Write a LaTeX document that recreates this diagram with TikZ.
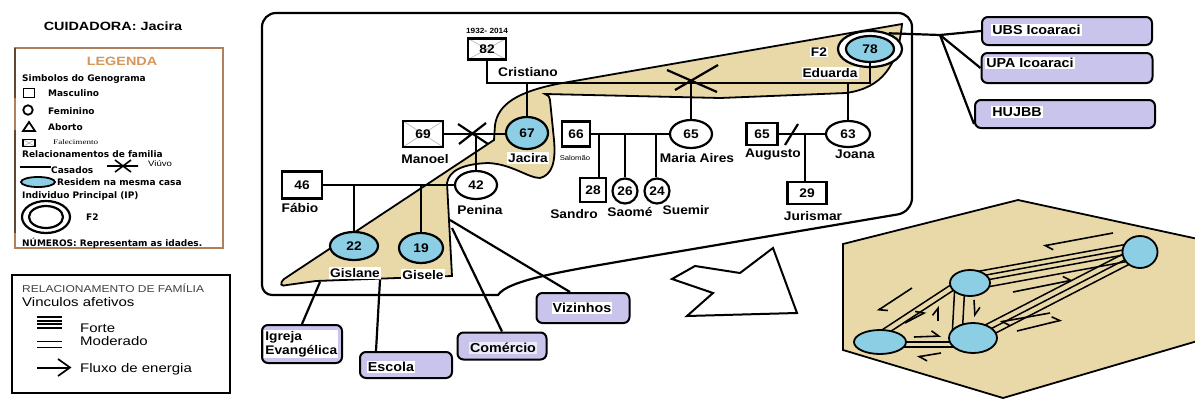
\documentclass[tikz,border=0pt]{standalone}
\usepackage{fontspec}
\setmainfont{Liberation Sans}
\newfontfamily\labfont{Liberation Sans}[FakeStretch=1.1]
\newfontfamily\widefont{Liberation Sans}[FakeStretch=1.2]
\newfontfamily\legfont{DejaVu Sans}
\newfontfamily\serffont{Liberation Serif}[FakeStretch=1.3]
\usetikzlibrary{shapes.geometric,arrows.meta}

\pgfdeclarelayer{bg}
\pgfdeclarelayer{links}
\pgfsetlayers{bg,links,main}

\definecolor{sky}{RGB}{140,206,228}
\definecolor{sand}{RGB}{234,217,168}
\definecolor{lilac}{RGB}{200,196,236}
\definecolor{rust}{RGB}{176,128,92}
\definecolor{legtitle}{RGB}{214,150,90}

\tikzset{
  kin/.style={line width=2.2pt},
  person/.style={draw, line width=2.2pt, fill=white, inner sep=0pt,
    font=\labfont\bfseries\fontsize{12.5}{12.5}\selectfont},
  man/.style={person, rectangle},
  woman/.style={person, ellipse},
  home/.style={fill=sky},
  dead/.style={path picture={\draw[gray!55, line width=0.7pt]
    (path picture bounding box.north west) -- (path picture bounding box.south east)
    (path picture bounding box.south west) -- (path picture bounding box.north east);}},
  plab/.style={font=\labfont\bfseries\fontsize{12.5}{12.5}\selectfont, inner sep=1pt},
  plabw/.style={plab, fill=white},
  legtxt/.style={font=\legfont\bfseries\fontsize{9}{9}\selectfont, anchor=west, inner sep=0pt},
  legtxtb/.style={font=\widefont\fontsize{12.5}{13}\selectfont, anchor=west, inner sep=0pt},
  resbox/.style={draw, line width=2pt, fill=lilac, rounded corners=6pt, inner sep=0pt},
  restext/.style={font=\labfont\bfseries\fontsize{13}{14}\selectfont, inner sep=1.2pt},
  hnode/.style={draw, ellipse, line width=1.8pt, fill=sky, inner sep=0pt},
  hl/.style={line width=1.5pt},
  flux/.style={line width=1.6pt, -{Straight Barb[left,length=7pt,width=11pt]}},
}

\begin{document}
\begin{tikzpicture}[x=1pt,y=-1pt]
\useasboundingbox (0,0) rectangle (1195,399);

% ---------- caregiver title and symbol legend ----------
\node[font=\widefont\bfseries\fontsize{12}{12}\selectfont] (cuid) at (113,26) {CUIDADORA: Jacira};
\draw[rust, line width=2pt] (15,48) rectangle (223,248);
\draw[rust!55!black, line width=2.5pt] (15,48) -- (15,98) (15,130) -- (15,233);
\node[font=\widefont\bfseries\fontsize{12}{12}\selectfont, text=legtitle] (legt) at (122,61) {LEGENDA};
\node[legtxt] (lg1) at (22,79) {Simbolos do Genograma};
\node[draw, line width=1.8pt, minimum width=11pt, minimum height=9pt, inner sep=0pt] (lgsq) at (29,93) {};
\node[legtxt] (lg2) at (48,93) {Masculino};
\node[draw, circle, line width=1.8pt, minimum size=9.5pt, inner sep=0pt] (lgci) at (28,110) {};
\node[legtxt] (lg3) at (48,111) {Feminino};
\draw[line width=1.8pt] (23,131) -- (29,122) -- (35,131) -- cycle;
\node[legtxt] (lg4) at (48,127) {Aborto};
\node[draw, line width=1.3pt, minimum width=12pt, minimum height=7pt, inner sep=0pt, dead] (lgdq) at (29,143) {};
\node[anchor=west, inner sep=0pt, font=\serffont\fontsize{7}{7}\selectfont] (lg5) at (53,142) {Falecimento};
\node[legtxt] (lg6) at (22,154) {Relacionamentos de familia};
\draw[line width=1.8pt] (20,167) -- (51,167);
\node[legtxt] (lg7) at (51,170) {Casados};
\draw[line width=1.6pt] (107,166) -- (138,166) (115,160) -- (131,172) (115,172) -- (131,160);
\node[anchor=west, inner sep=0pt, font=\widefont\fontsize{8}{8}\selectfont] (lg8) at (148,164) {Viúvo};
\node[draw, ellipse, fill=sky, line width=1.8pt, minimum width=34pt, minimum height=10pt, inner sep=0pt] (lgel) at (38,182) {};
\node[legtxt] (lg9) at (57,182) {Residem na mesma casa};
\node[legtxt] (lg10) at (22,196) {Individuo Principal (IP)};
\node[draw, ellipse, line width=2.2pt, minimum width=48pt, minimum height=32pt] (ipo) at (46,217) {};
\node[draw, ellipse, line width=2.2pt, minimum width=34pt, minimum height=22pt] (ipi) at (46,217) {};
\node[legtxt] (lg11) at (86,217) {F2};
\node[legtxt] (lg12) at (22,243) {NÚMEROS: Representam as idades.};

% ---------- relationship legend ----------
\draw[line width=2pt] (12,275) rectangle (230,393);
\node[anchor=west, inner sep=0pt, text=black!75, font=\widefont\fontsize{10}{10}\selectfont] (rl1) at (22,288) {RELACIONAMENTO DE FAMÍLIA};
\node[legtxtb] (rl2) at (22,302) {Vinculos afetivos};
\foreach \yy in {317,320.7,324.3,328} \draw[line width=1.7pt] (37,\yy) -- (62,\yy);
\foreach \yy in {341.5,347.5} \draw[line width=1.7pt] (37,\yy) -- (62,\yy);
\draw[line width=1.7pt] (37,368) -- (69,368);
\draw[line width=1.7pt] (58,359) -- (70,367.5) -- (58,376);
\node[legtxtb] (rl3) at (80,328) {Forte};
\node[legtxtb] (rl4) at (80,341) {Moderado};
\node[legtxtb] (rl5) at (80,369) {Fluxo de energia};

% ---------- background shapes ----------
\begin{pgfonlayer}{bg}
  % genogram frame
  \draw[line width=2.2pt] (262,150) [rounded corners=14pt] -- (262,13) -- (912,13) -- (912,212)
    -- (640,258) [sharp corners] .. controls (565,271) and (508,280) .. (498,295)
    [rounded corners=10pt] -- (262,295) -- cycle;
  % shared household
  \filldraw[fill=sand, line width=1.8pt] (902,24) -- (557,84)
    .. controls (518,92) and (498,104) .. (495,125) -- (494,140) -- (284,279)
    .. controls (279,284) and (281,287) .. (287,285) -- (316,281) -- (452,276) -- (447,183)
    .. controls (449,171) and (462,164) .. (488,163)
    .. controls (512,164) and (528,178) .. (540,178)
    .. controls (552,175) and (556,162) .. (554,140) -- (550,100)
    .. controls (549,96) and (548,95) .. (545,94) -- (720,98) -- (846,93)
    .. controls (882,88) and (898,66) .. (902,24) -- cycle;
  % arrow towards the ecomap
  \draw[line width=2pt, fill=white] (773,248) -- (797,313) -- (687,316) -- (713,293)
    -- (672,279) -- (695,266) -- (740,273) -- cycle;
  % hexagon
  \begin{scope}
    \clip (0,0) rectangle (1195,399);
    \filldraw[fill=sand, line width=1.8pt] (843,244) -- (1018,200) -- (1235,247)
      -- (1235,330) -- (1003,398) -- (843,350) -- cycle;
  \end{scope}
\end{pgfonlayer}

% ---------- people ----------
\node[draw, ellipse, line width=2.2pt, fill=white, minimum width=64pt, minimum height=36pt] (ring) at (870,49) {};
\node[woman, home, minimum width=48pt, minimum height=26pt] (eduarda) at (870,49) {78};
\node[plabw] (f2) at (819,52) {F2};
\node[plabw] (eduarda-n) at (830,73) {Eduarda};

\node[man, dead, minimum width=38pt, minimum height=21pt] (cristiano) at (487,49) {82};
\node[plab, font=\labfont\bfseries\fontsize{7.5}{8}\selectfont] (cristiano-d) at (487,31) {1932- 2014};
\node[plab] (cristiano-n) at (528,72) {Cristiano};
\node[man, dead, minimum width=40pt, minimum height=26pt] (manoel) at (423,134) {69};
\node[plab] (manoel-n) at (425,159) {Manoel};
\node[woman, home, minimum width=42pt, minimum height=32pt] (jacira) at (527,133) {67};
\node[plabw] (jacira-n) at (528,158) {Jacira};
\node[man, minimum width=28pt, minimum height=25pt] (salomao) at (576,134) {66};
\node[plab, font=\labfont\fontsize{7}{7}\selectfont] (salomao-n) at (575,158) {Salomão};
\node[woman, minimum width=42pt, minimum height=28pt] (maria) at (691,134) {65};
\node[plab] (maria-n) at (697,158) {Maria Aires};
\node[man, minimum width=26pt, minimum height=24pt] (sandro) at (593,190) {28};
\node[plab] (sandro-n) at (574,214) {Sandro};
\node[woman, minimum width=25pt, minimum height=25pt] (saome) at (625,191) {26};
\node[plab] (saome-n) at (630,212) {Saomé};
\node[woman, minimum width=25pt, minimum height=25pt] (suemir) at (657,191) {24};
\node[plab] (suemir-n) at (686,210) {Suemir};
\node[man, minimum width=31pt, minimum height=22pt] (augusto) at (762,134) {65};
\node[plab] (augusto-n) at (773,155) {Augusto};
\node[woman, minimum width=44pt, minimum height=26pt] (joana) at (848,134) {63};
\node[plab] (joana-n) at (855,154) {Joana};
\node[man, minimum width=39pt, minimum height=22pt] (jurismar) at (807,193) {29};
\node[plab] (jurismar-n) at (813,216) {Jurismar};
\node[man, minimum width=40pt, minimum height=27pt] (fabio) at (302,185) {46};
\node[plab] (fabio-n) at (300,208) {Fábio};
\node[woman, minimum width=42pt, minimum height=28pt] (penina) at (476,185) {42};
\node[plab] (penina-n) at (480,210) {Penina};
\node[woman, home, minimum width=48pt, minimum height=28pt] (gislane) at (354,246) {22};
\node[plabw] (gislane-n) at (355,273) {Gislane};
\node[woman, home, minimum width=44pt, minimum height=30pt] (gisele) at (421,248) {19};
\node[plabw] (gisele-n) at (423,275) {Gisele};

% ---------- family lines ----------
\coordinate (sib) at (0,83);
\draw[kin] (cristiano.south) -- (cristiano.south |- sib) -- (eduarda.south |- sib) -- (eduarda.south);
\draw[kin] (jacira.north) -- (jacira.north |- sib);
\draw[kin] (maria.north) -- (maria.north |- sib);
\draw[kin] (joana.north) -- (joana.north |- sib);
\coordinate (sep) at (692,80);
\draw[kin] ([shift={(-25,-10)}]sep) -- ([shift={(25,12)}]sep)
           ([shift={(-17,10)}]sep) -- ([shift={(26,-15)}]sep);
\draw[kin] (manoel.east) -- (manoel.east -| jacira.west);
\coordinate (wid) at (474,134);
\draw[kin] ([shift={(-16,-10)}]wid) -- ([shift={(14,10)}]wid)
           ([shift={(-15,10)}]wid) -- ([shift={(12,-11)}]wid);
\draw[kin] (penina.north) -- (penina.north |- wid);
\draw[kin] (fabio.east) -- (penina.west);
\coordinate (k1) at (354,185);
\coordinate (k2) at (421,185);
\draw[kin] (k1) -- (gislane.north) (k2) -- (gisele.north);
\draw[kin] (salomao.east) -- (maria.west);
\coordinate (s1) at (599,134);
\coordinate (s2) at (625,134);
\coordinate (s3) at (656,134);
\draw[kin] (s1) -- (s1 |- sandro.north) (s2) -- (saome.north) (s3) -- (s3 |- suemir.north);
\draw[kin] (augusto.east) -- (joana.west);
\coordinate (brk) at (791,134);
\draw[kin] ([shift={(-6,11)}]brk) -- ([shift={(7,-10)}]brk);
\coordinate (j1) at (805,134);
\draw[kin] (j1) -- (j1 |- jurismar.north);

% ---------- support network ----------
\node[resbox, minimum width=170pt, minimum height=28pt] (ubs) at (1067,31) {};
\node[restext, fill=white, anchor=west] (ubs-t) at (991,30) {UBS Icoaraci};
\node[resbox, minimum width=171pt, minimum height=30pt] (upa) at (1067,68) {};
\node[restext, fill=white, anchor=west] (upa-t) at (985,63) {UPA Icoaraci};
\node[resbox, minimum width=180pt, minimum height=28pt] (hujbb) at (1065,114) {};
\node[restext, fill=white, anchor=west] (hujbb-t) at (991,112) {HUJBB};
\node[resbox, minimum width=80pt, minimum height=38pt] (igreja) at (302,344) {};
\node[restext, font=\labfont\bfseries\fontsize{12.5}{14}\selectfont, fill=white, anchor=west, align=left] (igreja-t) at (264,344) {Igreja\\Evangélica};
\node[resbox, minimum width=92pt, minimum height=26pt] (escola) at (406,365) {};
\node[restext, fill=white] (escola-t) at (391,367) {Escola};
\node[resbox, minimum width=89pt, minimum height=27pt] (comercio) at (502,346) {};
\node[restext, fill=lilac!35] (comercio-t) at (503,348) {Comércio};
\node[resbox, minimum width=93pt, minimum height=30pt] (vizinhos) at (583,308) {};
\node[restext, fill=white] (vizinhos-t) at (582,308) {Vizinhos};

\coordinate (hub) at (940,35);
\draw[kin] (ring.40) -- (hub) -- (ubs.west);
\draw[kin] (hub) -- (upa.west);
\draw[kin] (hub) -- ([yshift=5pt]hujbb.south west);
\coordinate (t1) at (320,282);
\coordinate (t2) at (380,280);
\coordinate (t3) at (452,228);
\coordinate (t4) at (450,220);
\draw[kin] (t1) -- (igreja.north);
\draw[kin] (t2) -- ([xshift=-30pt]escola.north);
\draw[kin] (t3) -- (comercio.north);
\draw[kin] (t4) -- ([xshift=-13pt]vizinhos.north);

% ---------- ecomap of the household ----------
\node[hnode, minimum width=35pt, minimum height=32pt] (hA) at (1140,252) {};
\node[hnode, minimum width=40pt, minimum height=26pt] (hB) at (970,283) {};
\node[hnode, minimum width=52pt, minimum height=24pt] (hC) at (880,342) {};
\node[hnode, minimum width=48pt, minimum height=30pt] (hD) at (973,338) {};
\begin{pgfonlayer}{links}
  \foreach \k in {-10,-5,0,7}
    \draw[hl] ([shift={(0.179*\k,0.984*\k)}]hB.center) -- ([shift={(0.179*\k,0.984*\k)}]hA.center);
  \foreach \k in {-6,0,6}
    \draw[hl] ([shift={(0.458*\k,0.889*\k)}]hD.center) -- ([shift={(0.458*\k,0.889*\k)}]hA.center);
  \foreach \k in {-9,-3}
    \draw[hl] ([shift={(0.548*\k,0.836*\k)}]hC.center) -- ([shift={(0.548*\k,0.836*\k)}]hB.center);
  \draw[hl] (hC.center) -- ([yshift=-4pt]hD.center)
            ([yshift=-5pt]hC.center) -- ([yshift=-9pt]hD.center);
  \draw[hl] ([xshift=-15pt]hB.center) -- ([xshift=-21pt]hD.center)
            ([xshift=-5pt]hB.center) -- ([xshift=-11pt]hD.center);
\end{pgfonlayer}
\draw[flux] (1113,233) -- (1043,246);
\draw[flux] (1013,292) -- (1073,280);
\draw[flux] (912,288) -- (877,311);
\draw[flux] (905,323) -- (926,312);
\draw[flux] (938,321) -- (938,306);
\draw[flux] (974,300) -- (975,317);
\draw[flux] (914,337) -- (941,336);
\draw[flux] (941,353) -- (917,357);
\draw[flux] (1050,313) -- (1000,322);
\draw[flux] (1017,331) -- (1062,320);
\end{tikzpicture}
\end{document}
